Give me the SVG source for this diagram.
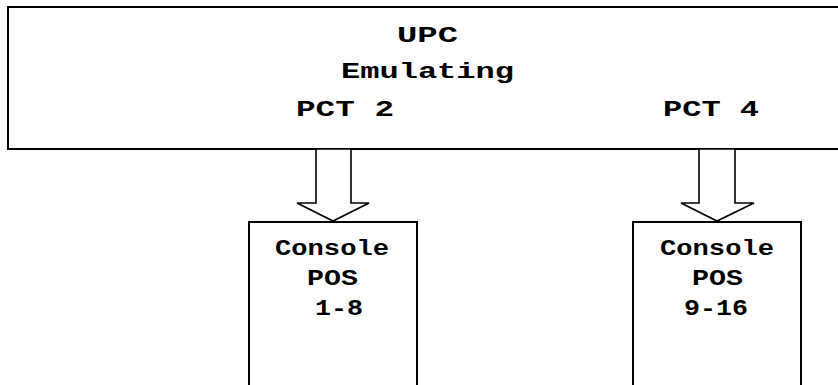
<svg xmlns="http://www.w3.org/2000/svg" width="838" height="385" viewBox="0 0 838 385">
<style>
.box{fill:#fff;stroke:#000;stroke-width:2}
.arr{fill:#fff;stroke:#000;stroke-width:1.6;stroke-linejoin:miter}
.t{font-family:"Liberation Mono","Courier New",monospace;font-weight:bold;font-size:22px;fill:#000}
</style>
<rect width="838" height="385" fill="#fff"/>
<g id="upc">
<path class="box" d="M842 7 H8 V149 H842"/>
<text class="t" x="397" y="42" textLength="61" lengthAdjust="spacingAndGlyphs">UPC</text>
<text class="t" x="341" y="78" textLength="173" lengthAdjust="spacingAndGlyphs">Emulating</text>
<text class="t" x="296" y="116" textLength="98" lengthAdjust="spacingAndGlyphs">PCT 2</text>
<text class="t" x="663" y="116" textLength="96" lengthAdjust="spacingAndGlyphs">PCT 4</text>
</g>
<g id="console1">
<path class="box" d="M249 390 V222 H417 V390"/>
<text class="t" x="275" y="255" textLength="114" lengthAdjust="spacingAndGlyphs">Console</text>
<text class="t" x="307" y="285" textLength="51" lengthAdjust="spacingAndGlyphs">POS</text>
<text class="t" x="315" y="315" textLength="48" lengthAdjust="spacingAndGlyphs">1-8</text>
</g>
<g id="console2">
<path class="box" d="M633 390 V222 H801 V390"/>
<text class="t" x="660" y="255" textLength="114" lengthAdjust="spacingAndGlyphs">Console</text>
<text class="t" x="692" y="285" textLength="51" lengthAdjust="spacingAndGlyphs">POS</text>
<text class="t" x="684" y="315" textLength="64" lengthAdjust="spacingAndGlyphs">9-16</text>
</g>
<g id="connectors">
<polygon class="arr" points="316,149 316,203 297,203 333,221 369,203 351,203 351,149"/>
<polygon class="arr" points="699,149 699,203 681,203 717,221 754,203 735,203 735,149"/>
</g>
</svg>
